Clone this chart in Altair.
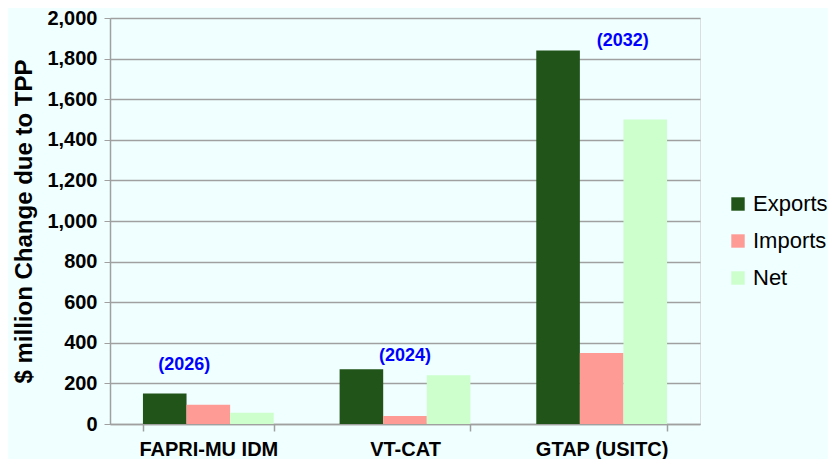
import altair as alt
import pandas as pd

models = ["FAPRI-MU IDM", "VT-CAT", "GTAP (USITC)"]
series = ["Exports", "Imports", "Net"]
exports = [150, 270, 1840]
imports = [95, 40, 350]
net = [55, 240, 1500]
years = ["(2026)", "(2024)", "(2032)"]
year_y = [293, 337, 1888]
year_dx = [-24, 0, 21]
colors = ["#215418", "#FF9B95", "#CCFFCC"]

rows = []
for i, m in enumerate(models):
    for s, vals in zip(series, [exports, imports, net]):
        rows.append({"model": m, "series": s, "value": vals[i]})
df = pd.DataFrame(rows)

ann = pd.DataFrame({"model": models, "label": years, "y": year_y})

FONT = "Liberation Sans"

x = alt.X("model:N", sort=models, title=None,
          scale=alt.Scale(paddingInner=0.335, paddingOuter=0.1675),
          axis=alt.Axis(labelAngle=0, labelFontSize=20, labelFontWeight="bold",
                        labelColor="black", labelPadding=8, ticks=True,
                        tickBand="extent", tickSize=7, tickColor="#A0A0A0",
                        tickWidth=1.5,
                        domainColor="#A0A0A0", domainWidth=1.5))

bars = alt.Chart(df).mark_bar().encode(
    x=x,
    xOffset=alt.XOffset("series:N", sort=series, scale=alt.Scale(paddingInner=0.0)),
    y=alt.Y("value:Q", title="$ million Change due to TPP",
            scale=alt.Scale(domain=[0, 2000]),
            axis=alt.Axis(values=list(range(0, 2001, 200)), format=",d",
                          labelFontSize=20, labelFontWeight="bold", labelColor="black",
                          labelPadding=7, tickSize=6, tickColor="#A0A0A0",
                          domainColor="#A0A0A0", domainWidth=1.5,
                          gridColor="#A0A0A0", gridWidth=1.5,
                          titleFontSize=24, titleFontWeight="bold", titleColor="black",
                          titlePadding=10)),
    color=alt.Color("series:N", sort=series,
                    scale=alt.Scale(domain=series, range=colors),
                    legend=alt.Legend(title=None, symbolType="square", symbolSize=180,
                                      symbolStrokeWidth=0, labelFontSize=22,
                                      labelColor="black", rowPadding=15,
                                      orient="none", legendX=617, legendY=175,
                                      labelOffset=4)),
)

layers = [bars]
for i, m in enumerate(models):
    t = alt.Chart(ann.iloc[[i]]).mark_text(
        font=FONT, fontSize=18, fontWeight="bold", color="#0000FF", dx=year_dx[i]
    ).encode(x=alt.X("model:N", sort=models), y=alt.Y("y:Q"), text="label:N")
    layers.append(t)

chart = alt.layer(*layers).properties(
    width=590, height=406, background="#F0FFFF",
    padding={"left": 4, "top": 0, "right": 0, "bottom": 0}
).configure_view(stroke=None).configure(font=FONT)

chart.save("out.html", embed_options={"renderer": "svg", "actions": False})
